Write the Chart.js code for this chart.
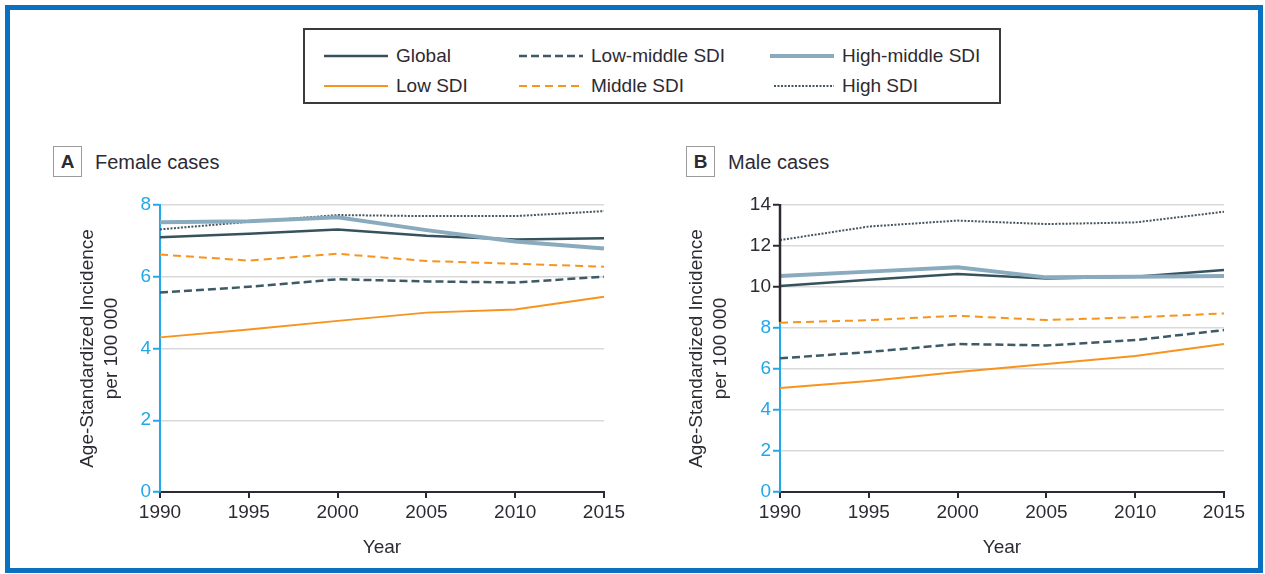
<!DOCTYPE html>
<html>
<head>
<meta charset="utf-8">
<script src="https://cdn.jsdelivr.net/npm/chart.js@4.4.1/dist/chart.umd.min.js"></script>
<style>
  body { margin: 0; background: #fff; font-family: "Liberation Sans", Arial, sans-serif; color: #2e2a33; }
  #frame { position: absolute; left: 5px; top: 5px; width: 1248px; height: 558px; border: 5px solid #0a71c0; }
  #legend { position: absolute; left: 303px; top: 28px; width: 694px; height: 72px; border: 2px solid #3a3a3a; }
  .item { position: absolute; font-size: 19px; height: 24px; line-height: 24px; white-space: nowrap; }
  .item svg { position: absolute; left: 0; top: 8px; }
  .item span { position: absolute; }
  .tag { position: absolute; width: 27px; height: 29px; border: 1px solid #9a9a9a; font-weight: bold; font-size: 19px; text-align: center; line-height: 29px; }
  .ptitle { position: absolute; font-size: 20px; line-height: 30px; }
  canvas { position: absolute; }
</style>
</head>
<body>
<div id="frame"></div>
<div id="legend"></div>

<div class="tag" style="left:53px; top:146px;">A</div>
<div class="ptitle" style="left:95px; top:147px;">Female cases</div>
<div class="tag" style="left:686px; top:146px;">B</div>
<div class="ptitle" style="left:728px; top:147px;">Male cases</div>

<canvas id="female" width="600" height="380" style="left:40px; top:190px;"></canvas>
<canvas id="male" width="600" height="380" style="left:660px; top:190px;"></canvas>

<script>
// Jahre (x-Achse)
const years = [1990, 1995, 2000, 2005, 2010, 2015];

// Serien-Namen
const seriesNames = ["Global", "Low SDI", "Low-middle SDI", "Middle SDI", "High-middle SDI", "High SDI"];

// A: Female cases
const femaleGlobal     = [7.10, 7.20, 7.32, 7.14, 7.04, 7.07];
const femaleLow        = [4.31, 4.53, 4.77, 5.00, 5.09, 5.44];
const femaleLowMiddle  = [5.56, 5.72, 5.93, 5.87, 5.84, 6.00];
const femaleMiddle     = [6.62, 6.45, 6.64, 6.44, 6.36, 6.28];
const femaleHighMiddle = [7.52, 7.55, 7.66, 7.30, 6.98, 6.79];
const femaleHigh       = [7.32, 7.53, 7.72, 7.69, 7.69, 7.83];

// B: Male cases
const maleGlobal     = [10.05, 10.35, 10.63, 10.41, 10.50, 10.83];
const maleLow        = [5.07, 5.41, 5.85, 6.24, 6.63, 7.22];
const maleLowMiddle  = [6.52, 6.83, 7.22, 7.15, 7.41, 7.90];
const maleMiddle     = [8.26, 8.38, 8.60, 8.39, 8.52, 8.71];
const maleHighMiddle = [10.54, 10.75, 10.96, 10.47, 10.50, 10.54];
const maleHigh       = [12.29, 12.95, 13.24, 13.07, 13.15, 13.67];

// Achsen-Ticks
const femaleYTicks = [0, 2, 4, 6, 8];
const maleYTicks = [0, 2, 4, 6, 8, 10, 12, 14];

const BLUE = "#22a8e8";
const DARK = "#2e2a33";
const FONT = "'Liberation Sans', Arial, sans-serif";

// Stil je Serie
const styles = {
    "Global":          { color: "#35525d", width: 2.5, dash: [] },
    "Low SDI":         { color: "#f7941d", width: 2,   dash: [] },
    "Low-middle SDI":  { color: "#3d5a66", width: 2.5, dash: [8, 4] },
    "Middle SDI":      { color: "#f7941d", width: 2,   dash: [8, 5] },
    "High-middle SDI": { color: "#8aabbd", width: 4,   dash: [] },
    "High SDI":        { color: "#46555e", width: 2,   dash: [2, 1.5] },
};

// Legende (HTML)
const legendPos = {
    "Global":          [19, 14],
    "Low-middle SDI":  [214, 14],
    "High-middle SDI": [465, 14],
    "Low SDI":         [19, 44],
    "Middle SDI":      [214, 44],
    "High SDI":        [469, 44],
};
const legendBox = document.getElementById("legend");
seriesNames.forEach((name) => {
    const s = styles[name];
    const [x, y] = legendPos[name];
    const lineW = name === "High SDI" ? 60 : 64;
    const el = document.createElement("div");
    el.className = "item";
    el.style.left = x + "px";
    el.style.top = y + "px";
    el.innerHTML =
        `<svg width="${lineW}" height="8"><line x1="0" y1="4" x2="${lineW}" y2="4" stroke="${s.color}" ` +
        `stroke-width="${s.width}" stroke-dasharray="${s.dash.join(",")}"/></svg>` +
        `<span style="left:${lineW + 8}px">${name}</span>`;
    legendBox.appendChild(el);
});

function makeDatasets(values) {
    // High-middle zuerst (liegt unten)
    const order = ["High-middle SDI", "High SDI", "Middle SDI", "Low-middle SDI", "Low SDI", "Global"];
    return order.map((name) => {
        const s = styles[name];
        return {
            label: name,
            data: years.map((yr, i) => ({ x: yr, y: values[name][i] })),
            borderColor: s.color,
            borderWidth: s.width,
            borderDash: s.dash,
            pointRadius: 0,
            tension: 0,
            clip: false,
        };
    });
}

// Zweifarbige y-Achse (Panel B): oberer Teil dunkel
function splitAxisPlugin(splitAt) {
    return {
        id: "splitAxis",
        afterDraw(chart) {
            if (splitAt == null) return;
            const y = chart.scales.y;
            const x0 = chart.chartArea.left;
            const ctx = chart.ctx;
            ctx.save();
            ctx.strokeStyle = DARK;
            ctx.lineWidth = 2.5;
            ctx.setLineDash([]);
            ctx.beginPath();
            ctx.moveTo(x0, y.getPixelForValue(y.max) - 1);
            ctx.lineTo(x0, y.getPixelForValue(splitAt));
            ctx.stroke();
            ctx.restore();
        },
    };
}

function renderPanel(canvas, values, yTicks, titlePad, splitAt) {
    const yMax = yTicks[yTicks.length - 1];
    const tickCol = (ctx) => (splitAt != null && ctx.tick && ctx.tick.value >= 10 ? DARK : BLUE);

    return new Chart(canvas.getContext("2d"), {
        type: "line",
        data: { datasets: makeDatasets(values) },
        plugins: [splitAxisPlugin(splitAt)],
        options: {
            responsive: false,
            animation: false,
            layout: { padding: { top: 15, right: 36, bottom: 0, left: 0 } },
            plugins: {
                legend: { display: false },
                tooltip: { enabled: false },
            },
            scales: {
                x: {
                    type: "linear",
                    min: years[0],
                    max: years[years.length - 1],
                    afterFit: (s) => { s.height = 78; },
                    afterBuildTicks: (s) => { s.ticks = years.map((v) => ({ value: v })); },
                    ticks: {
                        color: DARK,
                        font: { family: FONT, size: 19 },
                        padding: 3,
                        maxRotation: 0,
                        callback: (v) => String(v),
                    },
                    grid: { drawOnChartArea: false, drawTicks: true, tickLength: 6, tickColor: DARK, lineWidth: 2 },
                    border: { color: DARK, width: 2 },
                    title: {
                        display: true,
                        text: "Year",
                        color: DARK,
                        font: { family: FONT, size: 19, lineHeight: 1.3 },
                        padding: { top: 0, bottom: 10 },
                    },
                },
                y: {
                    min: 0,
                    max: yMax,
                    afterFit: (s) => { s.width = 120; },
                    afterBuildTicks: (s) => { s.ticks = yTicks.map((v) => ({ value: v })); },
                    ticks: {
                        color: tickCol,
                        font: { family: FONT, size: 19 },
                        padding: 2,
                    },
                    grid: {
                        color: "#d9d9d9",
                        lineWidth: 1.5,
                        drawTicks: true,
                        tickLength: 7,
                        tickColor: tickCol,
                        tickWidth: 2,
                    },
                    border: { color: BLUE, width: 2 },
                    title: {
                        display: true,
                        text: ["Age-Standardized Incidence", "per 100 000"],
                        color: DARK,
                        font: { family: FONT, size: 19, lineHeight: 1.3 },
                        padding: { top: titlePad, bottom: 0 },
                    },
                },
            },
        },
    });
}

const femaleValues = {
    "Global": femaleGlobal, "Low SDI": femaleLow, "Low-middle SDI": femaleLowMiddle,
    "Middle SDI": femaleMiddle, "High-middle SDI": femaleHighMiddle, "High SDI": femaleHigh,
};
const maleValues = {
    "Global": maleGlobal, "Low SDI": maleLow, "Low-middle SDI": maleLowMiddle,
    "Middle SDI": maleMiddle, "High-middle SDI": maleHighMiddle, "High SDI": maleHigh,
};

renderPanel(document.getElementById("female"), femaleValues, femaleYTicks, 35, null);
renderPanel(document.getElementById("male"), maleValues, maleYTicks, 24, 8.3);
</script>
</body>
</html>
